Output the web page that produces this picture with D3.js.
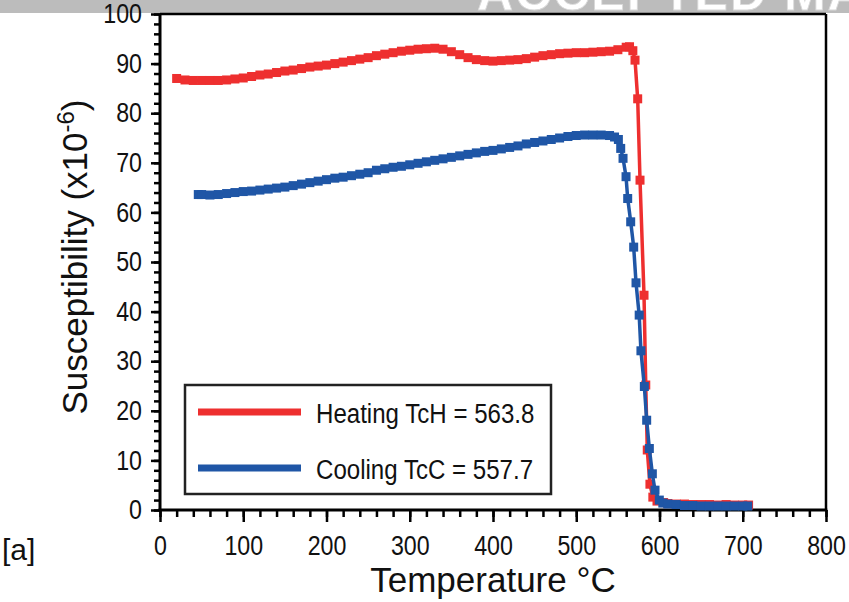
<!DOCTYPE html>
<html>
<head>
<meta charset="utf-8">
<script src="https://cdn.jsdelivr.net/npm/d3@7"></script>
<style>
  body { margin: 0; background: #fff; }
  text { font-family: "Liberation Sans", Arial, sans-serif; fill: #111; }
</style>
</head>
<body>
<svg id="chart" width="849" height="602"></svg>
<script>
// heating run (red), temperature in deg C, susceptibility x10^-6
var heatT = [20,30,40,50,60,70,80,90,100,110,120,130,140,150,160,170,180,190,200,
  210,220,230,240,250,260,270,280,290,300,310,320,330,340,350,360,370,380,390,400,
  410,420,430,440,450,460,470,480,490,500,510,520,530,540,550,560,564,568,
  570.6,573.8,576.6,581.4,583.5,585.3,588.5,592,597,605,
  610,620,630,640,650,660,670,680,690,700,707];
var heatK = [87.0,86.7,86.6,86.6,86.6,86.6,86.7,86.9,87.1,87.4,87.7,87.9,88.2,88.5,88.7,89.0,89.3,89.5,89.7,
  90.0,90.3,90.6,90.9,91.2,91.6,91.9,92.2,92.5,92.7,92.9,93.0,93.1,92.9,92.4,91.8,91.2,90.8,90.6,90.5,
  90.6,90.7,90.8,91.0,91.3,91.6,91.8,92.0,92.1,92.2,92.2,92.3,92.4,92.5,92.8,93.3,93.4,92.6,
  90.7,82.9,66.5,43.3,25.2,12.1,5.2,2.6,1.8,1.5,
  1.3,1.2,1.2,1.1,1.1,1.1,1.0,1.1,1.0,1.0,1.0];

// cooling run (blue)
var coolT = [46,50,60,70,80,90,100,110,120,130,140,150,160,170,180,190,200,
  210,220,230,240,250,260,270,280,290,300,310,320,330,340,350,360,370,380,390,400,
  410,420,430,440,450,460,470,480,490,500,510,520,530,540,546,
  550.6,553.4,556.2,559.8,561.8,565.4,569,571.8,575.6,577.7,581.8,584.6,587.8,591.4,594.6,599.8,604,
  610,620,630,640,650,660,670,680,690,700,706];
var coolK = [63.6,63.6,63.5,63.6,63.8,64.0,64.2,64.3,64.5,64.7,64.9,65.1,65.4,65.7,66.0,66.3,66.6,
  66.9,67.1,67.4,67.7,68.0,68.5,68.8,69.1,69.3,69.6,69.9,70.2,70.5,70.8,71.1,71.4,71.7,72.0,72.3,72.5,
  72.8,73.1,73.4,73.8,74.1,74.4,74.7,75.0,75.3,75.5,75.6,75.6,75.6,75.5,75.2,
  74.7,72.9,70.9,67.2,62.8,58.1,53.0,45.8,39.3,32.1,24.9,18.1,12.4,7.3,4.0,2.0,1.4,
  1.2,1.1,0.9,0.9,0.8,0.8,0.8,0.8,0.8,0.8,0.8];

var xTicks = [0,100,200,300,400,500,600,700,800];
var yTicks = [0,10,20,30,40,50,60,70,80,90,100];
var legendLabels = ["Heating TcH = 563.8", "Cooling TcC = 557.7"];
var red = "#ee2f2f", blue = "#1f56a6";

var svg = d3.select("#chart");

// grey banner strip with the watermark
svg.append("defs").append("clipPath").attr("id", "band")
  .append("rect").attr("x", 0).attr("y", 0).attr("width", 849).attr("height", 13);
svg.append("rect").attr("x", 0).attr("y", 0).attr("width", 849).attr("height", 13).attr("fill", "#bcbcbc");
svg.append("text").attr("clip-path", "url(#band)")
  .attr("x", 477).attr("y", 10).attr("font-size", 50).attr("font-weight", "bold")
  .attr("letter-spacing", 2).style("fill", "#fff").style("stroke", "#d8d8d8").style("stroke-width", 0.8)
  .text("ACCEPTED MANUSCRIPT");

var pLeft = 160, pRight = 826, pTop = 14, pBottom = 510;
var x = d3.scaleLinear().domain([0, 800]).range([pLeft, pRight]);
var y = d3.scaleLinear().domain([0, 100]).range([pBottom, pTop]);

// frame
svg.append("line").attr("x1", pLeft).attr("x2", pRight).attr("y1", pTop).attr("y2", pTop)
  .attr("stroke", "#000").attr("stroke-width", 2.5);
svg.append("line").attr("x1", pRight).attr("x2", pRight).attr("y1", pTop).attr("y2", pBottom)
  .attr("stroke", "#000").attr("stroke-width", 2.5);

function tickAxis(axis, tr) {
  var g = svg.append("g").attr("transform", tr).call(axis);
  g.select(".domain").remove();
  g.selectAll(".tick line").attr("stroke", "#000").attr("stroke-width", 2.5);
  return g;
}

tickAxis(d3.axisBottom(x).tickValues(d3.range(0, 801, 20)).tickSize(7).tickFormat(""), "translate(0," + pBottom + ")");
var gx = tickAxis(d3.axisBottom(x).tickValues(xTicks).tickSize(12).tickPadding(14), "translate(0," + pBottom + ")");
gx.selectAll("text").attr("font-size", 27).style("font-family", null)
  .attr("transform", "scale(0.86,1)");

tickAxis(d3.axisLeft(y).tickValues(d3.range(0, 101, 2)).tickSize(6).tickFormat(""), "translate(" + pLeft + ",0)");
var gy = tickAxis(d3.axisLeft(y).tickValues(yTicks).tickSize(9).tickPadding(9), "translate(" + pLeft + ",0)");
gy.selectAll("text").attr("font-size", 27).style("font-family", null)
  .attr("x", 0).attr("transform", "translate(-18,0) scale(0.86,1)");

svg.append("line").attr("x1", pLeft).attr("x2", pLeft).attr("y1", pTop).attr("y2", pBottom)
  .attr("stroke", "#000").attr("stroke-width", 3);
svg.append("line").attr("x1", pLeft - 1.5).attr("x2", pRight + 1.25).attr("y1", pBottom).attr("y2", pBottom)
  .attr("stroke", "#000").attr("stroke-width", 3);

// series
function drawSeries(ts, ks, col) {
  var pts = ts.map(function(t, i) { return [t, ks[i]]; });
  var line = d3.line().x(function(d) { return x(d[0]); }).y(function(d) { return y(d[1]); });
  svg.append("path").datum(pts).attr("d", line).attr("fill", "none")
    .attr("stroke", col).attr("stroke-width", 3.5);
  svg.append("g").selectAll("rect").data(pts).enter().append("rect")
    .attr("x", function(d) { return x(d[0]) - 4.5; })
    .attr("y", function(d) { return y(d[1]) - 4.5; })
    .attr("width", 9).attr("height", 9).attr("fill", col);
}
drawSeries(heatT, heatK, red);
drawSeries(coolT, coolK, blue);

// legend
svg.append("rect").attr("x", 185).attr("y", 385).attr("width", 366).attr("height", 109)
  .attr("fill", "#fff").attr("stroke", "#222").attr("stroke-width", 2.5);
[red, blue].forEach(function(col, i) {
  var ly = 412 + i * 56;
  svg.append("line").attr("x1", 198).attr("x2", 301).attr("y1", ly).attr("y2", ly)
    .attr("stroke", col).attr("stroke-width", 7);
  svg.append("text").attr("transform", "translate(316," + (ly + 11) + ") scale(0.86,1)")
    .attr("font-size", 28).text(legendLabels[i]);
});

// axis titles
svg.append("text").attr("x", 493).attr("y", 592).attr("text-anchor", "middle")
  .attr("font-size", 35).text("Temperature °C");
var yt = svg.append("text").attr("transform", "translate(87,257) rotate(-90)")
  .attr("text-anchor", "middle").attr("font-size", 35);
yt.append("tspan").text("Susceptibility (x10");
yt.append("tspan").attr("dy", -13).attr("font-size", 24).text("-6");
yt.append("tspan").attr("dy", 13).text(")");

svg.append("text").attr("x", 2).attr("y", 560).attr("font-size", 30).text("[a]");
</script>
</body>
</html>
